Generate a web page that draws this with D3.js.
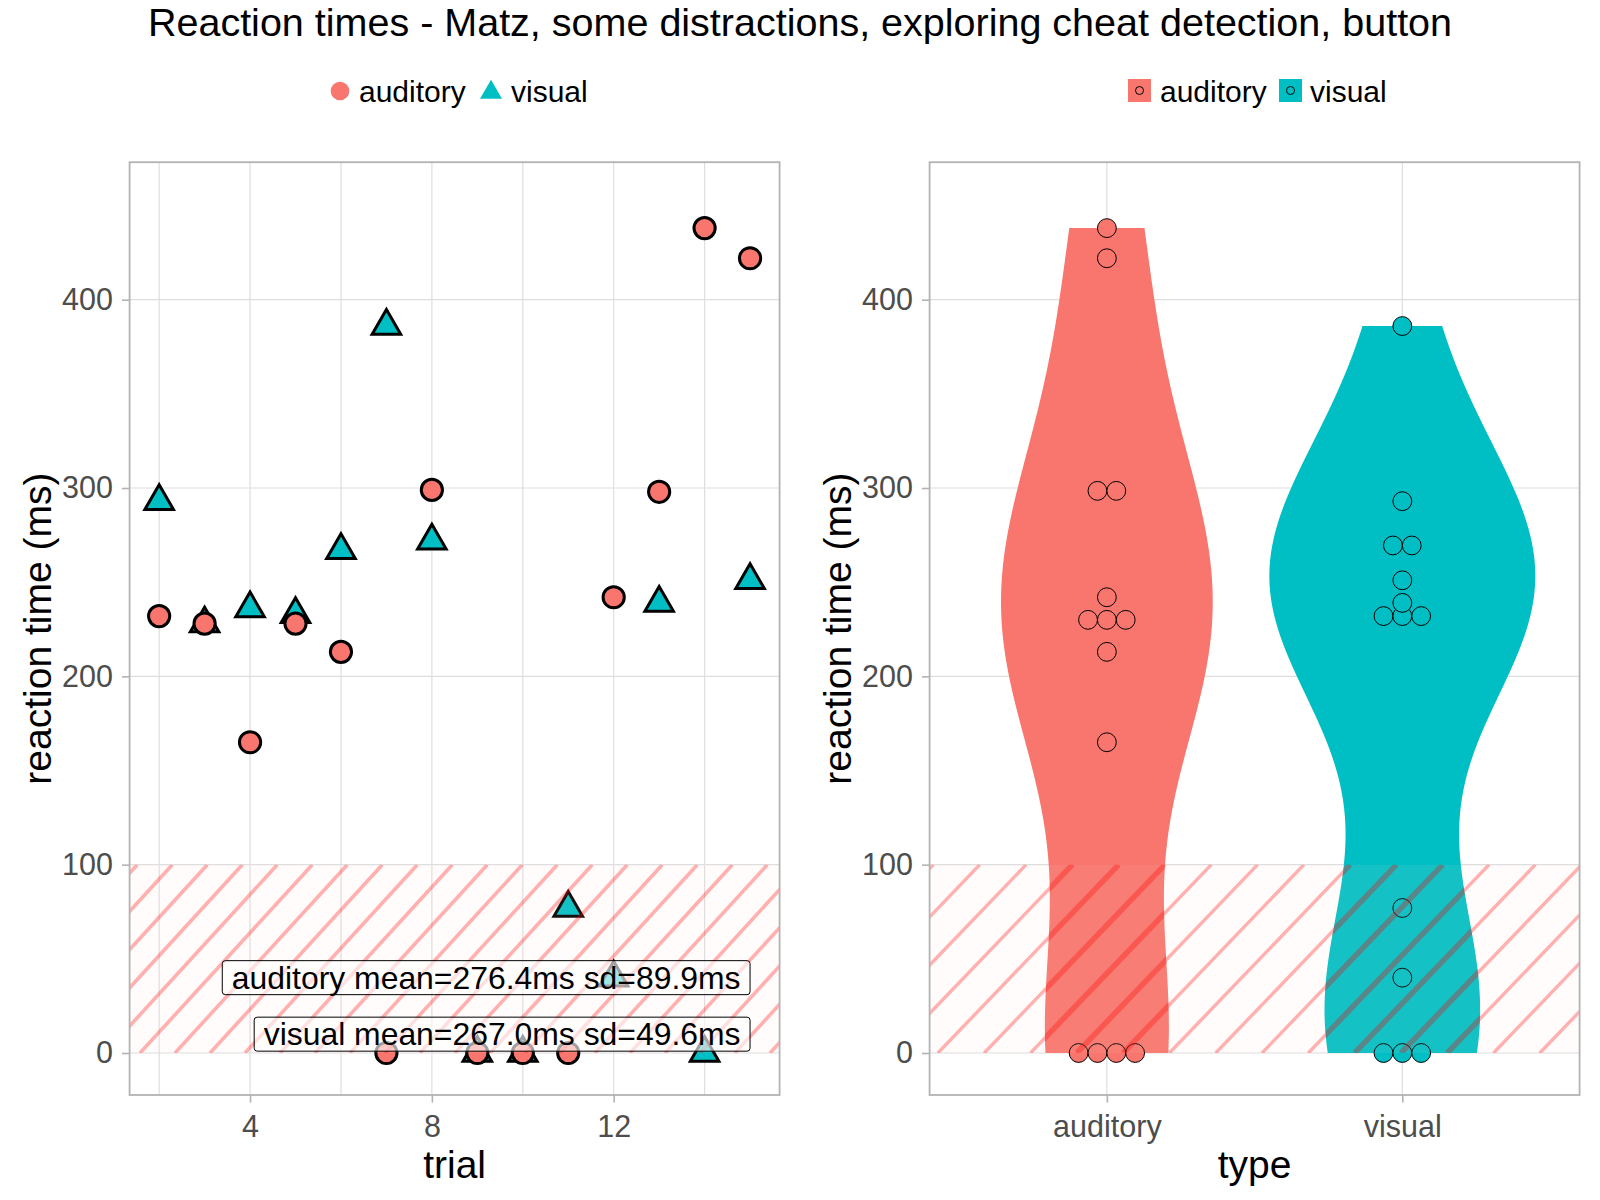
<!DOCTYPE html>
<html>
<head>
<meta charset="utf-8">
<script src="https://cdn.jsdelivr.net/npm/d3@7"></script>
<style>
  body { margin: 0; background: #fff; }
  text { font-family: "Liberation Sans", Arial, sans-serif; }
</style>
</head>
<body>
<div id="chart"></div>
<script>
// values
var trials = [2, 3, 4, 5, 6, 7, 8, 9, 10, 11, 12, 13, 14, 15]
var auditoryRT = [232, 228, 165, 228, 213, 0, 299, 0, 0, 0, 242, 298, 438, 422]
var visualRT = [293, 228, 236, 233, 267, 386, 272, 0, 0, 77, 40, 239, 0, 251]
var types = ["auditory", "visual"]
var typeColors = ["#F8766D", "#00BFC4"]
var yTicks = [0, 100, 200, 300, 400]
var trialTicks = [4, 8, 12]
var trialMinor = [2, 6, 10, 14]
var summaryText = ["auditory mean=276.4ms sd=89.9ms", "visual mean=267.0ms sd=49.6ms"]
var summaryY = [40, 10]
var cheatLimit = 100
var dotBinWidth = 10

var W = 1600, H = 1200
var svg = d3.select("#chart").append("svg").attr("width", W).attr("height", H)
var defs = svg.append("defs")

var panelTop = 162.2, panelBottom = 1095
var leftX = [129.6, 779.6], rightX = [929.6, 1579.6]

var y = d3.scaleLinear().domain([-22.3, 473]).range([panelBottom, panelTop])
var xTrial = d3.scaleLinear().domain([1.35, 15.65]).range(leftX)
var xType = d3.scalePoint().domain(types).range(rightX).padding(0.6)
var typeStep = xType.step()

var gridColor = "#DEDEDE", borderColor = "#B3B3B3", tickText = "#4D4D4D"

// title
svg.append("text").attr("x", W / 2).attr("y", 36).attr("text-anchor", "middle")
    .attr("font-size", 39.5).text("Reaction times - Matz, some distractions, exploring cheat detection, button")

// ---------- helpers ----------
function drawGrid(g, xs, xr) {
    yTicks.forEach(function (t) {
        g.append("line").attr("x1", xr[0]).attr("x2", xr[1]).attr("y1", y(t)).attr("y2", y(t))
            .attr("stroke", gridColor).attr("stroke-width", 1.2)
    })
    xs.forEach(function (px) {
        g.append("line").attr("x1", px).attr("x2", px).attr("y1", panelTop).attr("y2", panelBottom)
            .attr("stroke", gridColor).attr("stroke-width", 1.2)
    })
}

function styleAxis(a) {
    a.select(".domain").remove()
    a.selectAll(".tick line").attr("stroke", borderColor).attr("stroke-width", 1.6)
    a.selectAll(".tick text").attr("fill", tickText).attr("font-size", 30.5)
        .attr("font-family", "Liberation Sans, Arial, sans-serif")
}

function drawHatch(g, xr, spacing, slope, phase, id, violinPaths) {
    var y1 = y(cheatLimit), y0 = y(0), h = y0 - y1
    defs.append("clipPath").attr("id", "clip-" + id).append("rect")
        .attr("x", xr[0]).attr("y", y1).attr("width", xr[1] - xr[0]).attr("height", h)
    var hg = g.append("g").attr("clip-path", "url(#clip-" + id + ")")
    hg.append("rect").attr("x", xr[0]).attr("y", y1).attr("width", xr[1] - xr[0]).attr("height", h)
        .attr("fill", "rgb(250,215,205)").attr("fill-opacity", 0.08)
    var ks = d3.range(-12, 30)
    function lines(sel, width) {
        sel.selectAll("line").data(ks).join("line")
            .attr("x1", function (k) { return phase + k * spacing })
            .attr("y1", y0)
            .attr("x2", function (k) { return phase + k * spacing + h * slope })
            .attr("y2", y1)
            .attr("stroke", "rgba(255,0,0,0.3)").attr("stroke-width", width)
    }
    if (violinPaths) {
        var mask = defs.append("mask").attr("id", "mask-" + id)
        mask.append("rect").attr("x", 0).attr("y", 0).attr("width", W).attr("height", H).attr("fill", "white")
        var clipV = defs.append("clipPath").attr("id", "vclip-" + id)
        violinPaths.forEach(function (d) {
            mask.append("path").attr("d", d).attr("fill", "black")
            clipV.append("path").attr("d", d)
        })
        lines(hg.append("g").attr("mask", "url(#mask-" + id + ")"), 3.4)
        lines(hg.append("g").attr("clip-path", "url(#vclip-" + id + ")"), 5.5)
    } else {
        lines(hg.append("g"), 3.6)
    }
}

function border(g, xr) {
    g.append("rect").attr("x", xr[0]).attr("y", panelTop).attr("width", xr[1] - xr[0])
        .attr("height", panelBottom - panelTop).attr("fill", "none")
        .attr("stroke", borderColor).attr("stroke-width", 1.8)
}

function trianglePath(cx, cy, r) {
    var xc = r * Math.sqrt(3) / 2, yc = r / 2
    return "M" + cx + "," + (cy - r) + "L" + (cx + xc) + "," + (cy + yc) + "L" + (cx - xc) + "," + (cy + yc) + "Z"
}

// ---------- left panel: reaction time by trial ----------
var left = svg.append("g")
drawGrid(left, trialTicks.concat(trialMinor).map(xTrial), leftX)

var pointR = 10.6
left.selectAll("path.vis").data(trials).join("path").attr("class", "vis")
    .attr("d", function (t, i) { return trianglePath(xTrial(t), y(visualRT[i]), pointR * 1.555) })
    .attr("fill", typeColors[1]).attr("stroke", "#000").attr("stroke-width", 3)
    .attr("stroke-linejoin", "miter")
left.selectAll("circle.aud").data(trials).join("circle").attr("class", "aud")
    .attr("cx", function (t) { return xTrial(t) })
    .attr("cy", function (t, i) { return y(auditoryRT[i]) })
    .attr("r", pointR)
    .attr("fill", typeColors[0]).attr("stroke", "#000").attr("stroke-width", 3)

drawHatch(left, leftX, 35, 0.915, 140, "left", null)

// summary labels, right edge at the last trial
summaryText.forEach(function (s, i) {
    var lg = left.append("g")
    var cy = y(summaryY[i])
    var box = lg.append("rect")
    var txt = lg.append("text").attr("x", xTrial(d3.max(trials)) - 9.5).attr("y", cy + 11.3)
        .attr("text-anchor", "end").attr("font-size", 31.9).text(s)
    var len = txt.node().getComputedTextLength()
    box.attr("x", xTrial(d3.max(trials)) - len - 19).attr("y", cy - 17).attr("width", len + 19).attr("height", 34)
        .attr("rx", 3).attr("fill", "#fff").attr("fill-opacity", 0.6).attr("stroke", "#000").attr("stroke-width", 1)
})
border(left, leftX)

var axL = left.append("g").attr("transform", "translate(" + leftX[0] + ",0)")
    .call(d3.axisLeft(y).tickValues(yTicks).tickSize(7.6).tickPadding(9))
styleAxis(axL)
var axB = left.append("g").attr("transform", "translate(0," + panelBottom + ")")
    .call(d3.axisBottom(xTrial).tickValues(trialTicks).tickSize(7.6).tickPadding(13))
styleAxis(axB)

left.append("text").attr("x", (leftX[0] + leftX[1]) / 2).attr("y", 1178).attr("text-anchor", "middle")
    .attr("font-size", 39).text("trial")
left.append("text").attr("transform", "translate(51," + (panelTop + panelBottom) / 2 + ") rotate(-90)")
    .attr("text-anchor", "middle").attr("font-size", 39).text("reaction time (ms)")

// legend left
svg.append("circle").attr("cx", 340).attr("cy", 91).attr("r", 9.3).attr("fill", typeColors[0])
svg.append("text").attr("x", 359).attr("y", 102).attr("font-size", 30).text(types[0])
svg.append("path").attr("d", trianglePath(491, 92.5, 12.7)).attr("fill", typeColors[1])
svg.append("text").attr("x", 511).attr("y", 102).attr("font-size", 30).text(types[1])

// ---------- right panel: violins + dot plot ----------
var right = svg.append("g")
drawGrid(right, types.map(xType), rightX)

var groups = [auditoryRT, visualRT]

function bwNrd0(v) {
    var s = v.slice().sort(d3.ascending)
    var sd = d3.deviation(s)
    var iqr = d3.quantile(s, 0.75) - d3.quantile(s, 0.25)
    var lo = Math.min(sd, iqr / 1.34)
    if (!lo) lo = sd || 1
    return 0.9 * lo * Math.pow(s.length, -0.2)
}

var dens = groups.map(function (v) {
    var bw = bwNrd0(v), n = v.length
    var lo = d3.min(v), hi = d3.max(v)
    return d3.range(512).map(function (i) {
        var t = lo + (hi - lo) * i / 511
        var d = d3.sum(v, function (x) { var u = (t - x) / bw; return Math.exp(-0.5 * u * u) }) / (n * bw * Math.sqrt(2 * Math.PI))
        return [t, d]
    })
})
var maxDens = d3.max(dens, function (g) { return d3.max(g, function (p) { return p[1] }) })

var violinPaths = dens.map(function (g, gi) {
    var cx = xType(types[gi])
    var half = function (p) { return p[1] / maxDens * 0.45 * typeStep }
    var area = d3.area()
        .y(function (p) { return y(p[0]) })
        .x0(function (p) { return cx - half(p) })
        .x1(function (p) { return cx + half(p) })
    return area(g)
})

right.selectAll("path.violin").data(violinPaths).join("path").attr("class", "violin")
    .attr("d", function (d) { return d })
    .attr("fill", function (d, i) { return typeColors[i] })

function dotBins(v) {
    var s = v.slice().sort(d3.ascending), out = [], i = 0
    while (i < s.length) {
        var start = s[i], m = []
        while (i < s.length && s[i] < start + dotBinWidth) { m.push(s[i]); i++ }
        out.push({ center: (m[0] + m[m.length - 1]) / 2, count: m.length })
    }
    return out
}

var dotDiam = y(0) - y(dotBinWidth)
groups.forEach(function (v, gi) {
    var cx = xType(types[gi])
    var dots = []
    dotBins(v).forEach(function (b) {
        for (var j = 0; j < b.count; j++) dots.push({ x: cx + (j - (b.count - 1) / 2) * dotDiam, v: b.center })
    })
    right.selectAll("circle.dot" + gi).data(dots).join("circle").attr("class", "dot" + gi)
        .attr("cx", function (d) { return d.x })
        .attr("cy", function (d) { return y(d.v) })
        .attr("r", dotDiam / 2)
        .attr("fill", typeColors[gi]).attr("stroke", "#000").attr("stroke-width", 1)
})

drawHatch(right, rightX, 46.3, 0.96, 937.9, "right", violinPaths)
border(right, rightX)

var axR = right.append("g").attr("transform", "translate(" + rightX[0] + ",0)")
    .call(d3.axisLeft(y).tickValues(yTicks).tickSize(7.6).tickPadding(9))
styleAxis(axR)
var axRB = right.append("g").attr("transform", "translate(0," + panelBottom + ")")
    .call(d3.axisBottom(xType).tickSize(7.6).tickPadding(13))
styleAxis(axRB)

right.append("text").attr("x", (rightX[0] + rightX[1]) / 2).attr("y", 1178).attr("text-anchor", "middle")
    .attr("font-size", 39).text("type")
right.append("text").attr("transform", "translate(851," + (panelTop + panelBottom) / 2 + ") rotate(-90)")
    .attr("text-anchor", "middle").attr("font-size", 39).text("reaction time (ms)")

// legend right
var keyX = [1128, 1279], keyTextX = [1160, 1310]
types.forEach(function (t, i) {
    svg.append("rect").attr("x", keyX[i]).attr("y", 79).attr("width", 23).attr("height", 23).attr("fill", typeColors[i])
    svg.append("circle").attr("cx", keyX[i] + 11.5).attr("cy", 90.5).attr("r", 4)
        .attr("fill", typeColors[i]).attr("stroke", "#000").attr("stroke-width", 1)
    svg.append("text").attr("x", keyTextX[i]).attr("y", 102).attr("font-size", 30).text(t)
})
</script>
</body>
</html>
